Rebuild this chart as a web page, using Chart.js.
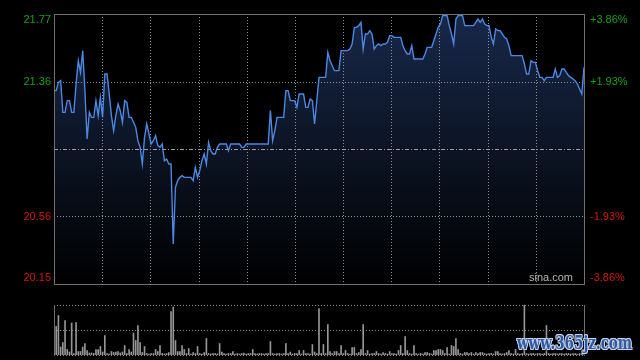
<!DOCTYPE html>
<html><head><meta charset="utf-8">
<script src="https://cdn.jsdelivr.net/npm/chart.js@4"></script>
<style>
html,body{margin:0;padding:0;background:#000;width:640px;height:360px;overflow:hidden}
#wrap{position:relative;width:640px;height:360px;background:#000}
#main{position:absolute;left:0;top:0}
#vol{position:absolute;left:0;top:290px}
#wm{position:absolute;left:517px;top:332px;font:bold 18px "DejaVu Serif",serif;line-height:22px;color:#2d58a6;white-space:nowrap;transform:scaleX(0.75);transform-origin:0 0;
text-shadow:1px 0 0 #c9d3e6,-1px 0 0 #c9d3e6,0 1px 0 #c9d3e6,0 -1px 0 #c9d3e6,1px 1px 0 #c9d3e6,-1px -1px 0 #c9d3e6,1px -1px 0 #c9d3e6,-1px 1px 0 #c9d3e6,2px 2px 2px #000}
</style></head>
<body>
<div id="wrap">
<canvas id="main" width="640" height="290"></canvas>
<canvas id="vol" width="640" height="70"></canvas>
<div id="wm">www.365jz.com</div>
</div>
<script>
const prevClose = 20.96;
const priceMin = 20.15;
const priceMax = 21.77;
const priceTickLabels = ['21.77','21.36','20.96','20.56','20.15'];
const pctTickLabels = ['+3.86%','+1.93%','','-1.93%','-3.86%'];
const prices = [
21.31,21.31,21.36,21.37,21.18,21.18,21.25,21.25,21.18,21.18,
21.35,21.49,21.42,21.55,21.31,21.02,21.18,21.15,21.15,21.25,
21.16,21.27,21.15,21.41,21.41,21.29,21.16,21.07,21.16,21.23,
21.19,21.12,21.25,21.24,21.15,21.15,21.12,21.09,21.01,20.97,
20.87,21.03,21.11,21.05,20.99,21.01,21.04,20.98,20.97,20.99,
20.89,20.90,20.87,20.87,20.39,20.73,20.77,20.79,20.80,20.79,
20.79,20.79,20.79,20.77,20.85,20.79,20.83,20.89,20.93,20.87,
21.00,20.95,20.93,20.93,20.97,20.99,20.99,20.99,20.99,20.95,
20.99,20.99,20.99,20.99,20.99,20.97,20.97,20.99,20.99,20.99,
20.99,20.99,20.99,20.99,20.99,20.99,20.99,20.99,21.19,21.01,
21.07,21.15,21.15,21.15,21.15,21.31,21.31,21.25,21.25,21.25,
21.21,21.29,21.29,21.29,21.21,21.21,21.26,21.25,21.11,21.25,
21.39,21.39,21.39,21.39,21.54,21.49,21.46,21.43,21.43,21.43,
21.55,21.55,21.55,21.55,21.56,21.59,21.69,21.69,21.70,21.72,
21.56,21.65,21.65,21.67,21.65,21.56,21.58,21.59,21.58,21.59,
21.59,21.60,21.64,21.64,21.63,21.63,21.63,21.63,21.58,21.55,
21.53,21.53,21.58,21.50,21.50,21.50,21.50,21.50,21.53,21.57,
21.57,21.57,21.61,21.65,21.69,21.71,21.76,21.76,21.76,21.70,
21.65,21.59,21.74,21.76,21.76,21.76,21.70,21.70,21.70,21.70,
21.70,21.72,21.74,21.72,21.74,21.71,21.70,21.70,21.63,21.59,
21.68,21.67,21.67,21.65,21.63,21.62,21.58,21.52,21.52,21.52,
21.52,21.52,21.52,21.47,21.41,21.41,21.49,21.48,21.48,21.43,
21.39,21.39,21.37,21.39,21.39,21.39,21.39,21.44,21.39,21.40,
21.44,21.44,21.42,21.40,21.39,21.38,21.37,21.35,21.32,21.29,
21.45];
const volumes = [
43,57,79,16,25,69,11,6,64,3,
65,7,7,16,23,9,4,4,3,11,
11,17,6,39,3,2,7,5,6,7,
4,6,19,3,11,6,44,29,59,25,
5,17,3,2,3,3,11,7,19,3,
2,3,5,87,96,29,7,7,19,11,
3,13,2,5,3,17,3,2,5,33,
3,2,3,3,2,23,6,3,2,3,
3,7,2,3,2,3,4,2,3,3,
11,3,2,3,3,2,3,3,27,3,
2,3,3,2,3,23,3,6,2,3,
3,9,2,9,3,3,2,21,6,3,
93,3,21,3,61,7,3,7,7,3,
19,3,9,3,2,15,15,3,5,11,
61,3,9,2,3,3,7,3,2,5,
3,2,7,3,3,2,9,19,3,37,
9,3,2,19,3,2,3,2,5,5,
3,2,9,9,11,11,9,3,15,2,
19,17,33,11,3,2,5,5,3,5,
2,5,3,5,5,3,2,3,3,2,
7,7,3,2,3,5,9,3,2,11,
3,2,3,100,3,2,3,3,2,3,
3,2,3,59,3,2,3,3,2,3,
3,2,3,3,2,3,3,2,3,3,
4];
const volumeMax = 100;
const labels = prices.map((_, i) => i);

const GREEN = '#14a014', RED = '#d0180c', GRID = 'rgba(160,160,160,0.9)', FRAME = '#707070';
const FONT = '11px "Liberation Sans", Arial, sans-serif';

function hline(ctx, x1, x2, y, dash, color) {
  ctx.save(); ctx.beginPath(); ctx.setLineDash(dash); ctx.strokeStyle = color; ctx.lineWidth = 1;
  const yy = Math.round(y) + 0.5; ctx.moveTo(x1, yy); ctx.lineTo(x2, yy); ctx.stroke(); ctx.restore();
}
function vline(ctx, x, y1, y2, dash, color) {
  ctx.save(); ctx.beginPath(); ctx.setLineDash(dash); ctx.strokeStyle = color; ctx.lineWidth = 1;
  const xx = Math.round(x) + 0.5; ctx.moveTo(xx, y1); ctx.lineTo(xx, y2); ctx.stroke(); ctx.restore();
}

const mainPlugin = {
  id: 'mainDeco',
  beforeDatasetDraw(chart) {
    const {ctx, chartArea: a, scales: {y}} = chart;
    for (let k = 1; k < 4; k++) {
      const v = priceMin + k * (priceMax - priceMin) / 4;
      const py = y.getPixelForValue(v);
      if (k === 2) hline(ctx, a.left, a.right, py, [4, 2, 1, 2], 'rgba(175,175,175,0.9)');
      else hline(ctx, a.left, a.right, py, [1, 2], GRID);
    }
    for (let k = 1; k < 11; k++) {
      const px = a.left + k * (a.right - a.left) / 11;
      vline(ctx, px, a.top, a.bottom, [1, 2], GRID);
    }
  },
  afterDatasetsDraw(chart) {
    const {ctx, chartArea: a, scales: {y}} = chart;
    ctx.save();
    ctx.strokeStyle = FRAME; ctx.lineWidth = 1; ctx.setLineDash([]);
    ctx.strokeRect(Math.round(a.left) + 0.5, Math.round(a.top) + 0.5, Math.round(a.right - a.left), Math.round(a.bottom - a.top));
    ctx.font = FONT; ctx.textBaseline = 'middle';
    for (let k = 0; k < 5; k++) {
      const v = priceMax - k * (priceMax - priceMin) / 4;
      let py = y.getPixelForValue(v);
      if (k === 0) py += 6; if (k === 4) py -= 6;
      const col = v > prevClose + 0.001 ? GREEN : (v < prevClose - 0.001 ? RED : '#aaa');
      ctx.fillStyle = col;
      if (k !== 2) {
        ctx.textAlign = 'right'; ctx.fillText(priceTickLabels[k], a.left - 3, py);
        ctx.textAlign = 'left'; ctx.fillText(pctTickLabels[k], a.right + 6, py);
      }
    }
    ctx.fillStyle = '#b4b4b4'; ctx.textAlign = 'right';
    ctx.fillText('sina.com', a.right - 11, a.bottom - 6);
    ctx.restore();
  }
};

new Chart(document.getElementById('main'), {
  type: 'line',
  data: { labels, datasets: [{
    data: prices,
    borderColor: '#4a88e4', borderWidth: 1.4, pointRadius: 0, tension: 0, fill: 'start',
    backgroundColor: (c) => {
      const {ctx, chartArea} = c.chart; if (!chartArea) return 'rgba(0,0,0,0)';
      const g = ctx.createLinearGradient(0, chartArea.top, 0, chartArea.bottom);
      g.addColorStop(0, 'rgb(24,40,74)'); g.addColorStop(0.5, 'rgb(12,20,36)'); g.addColorStop(1, 'rgb(0,0,0)');
      return g;
    }
  }]},
  options: {
    responsive: false, animation: false, events: [],
    layout: { padding: { left: 54, right: 56, top: 14, bottom: 6 } },
    plugins: { legend: { display: false }, tooltip: { enabled: false } },
    scales: {
      x: { type: 'category', display: false, offset: false },
      y: { type: 'linear', display: false, min: priceMin, max: priceMax }
    }
  },
  plugins: [mainPlugin]
});

const volPlugin = {
  id: 'volDeco',
  afterDatasetsDraw(chart) {
    const {ctx, chartArea: a, scales: {y}} = chart;
    hline(ctx, a.left, a.right, y.getPixelForValue(volumeMax / 2), [1, 2], GRID);
    hline(ctx, a.left, a.right, a.top, [1, 2], 'rgba(160,160,160,0.9)');
    hline(ctx, a.left, a.right, a.bottom, [1, 2], 'rgba(160,160,160,0.9)');
    vline(ctx, a.left, a.top, a.bottom + 1, [], FRAME);
    vline(ctx, a.right, a.top, a.bottom + 1, [], FRAME);
  }
};

new Chart(document.getElementById('vol'), {
  type: 'bar',
  data: { labels, datasets: [{ data: volumes, backgroundColor: 'rgb(150,150,150)', barThickness: 1, borderWidth: 0 }] },
  options: {
    responsive: false, animation: false, events: [],
    layout: { padding: { left: 54, right: 56, top: 15, bottom: 5 } },
    plugins: { legend: { display: false }, tooltip: { enabled: false } },
    scales: {
      x: { type: 'category', display: false, offset: false },
      y: { type: 'linear', display: false, min: 0, max: volumeMax }
    }
  },
  plugins: [volPlugin]
});
</script>
</body></html>
